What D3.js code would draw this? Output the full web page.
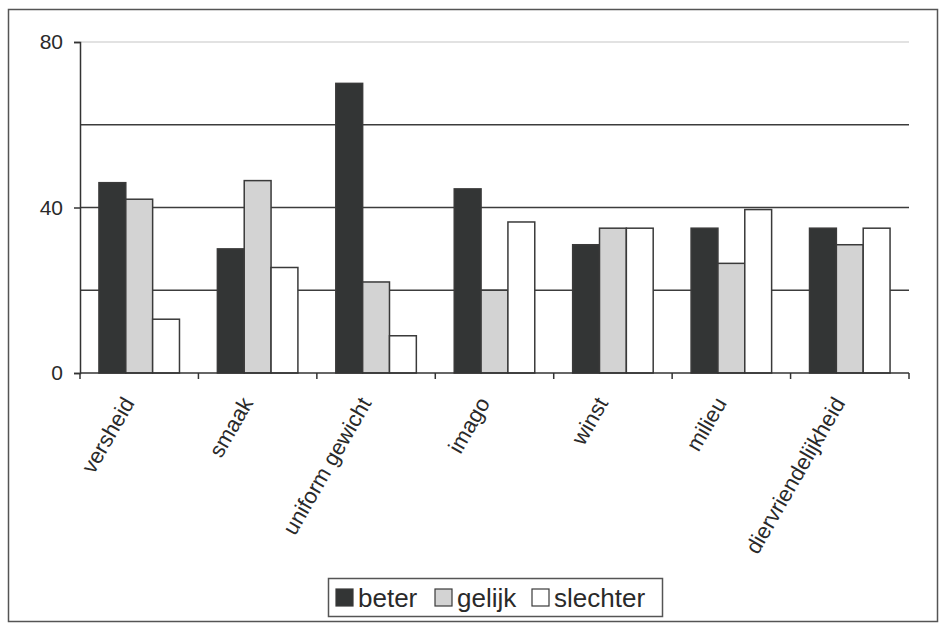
<!DOCTYPE html>
<html>
<head>
<meta charset="utf-8">
<script src="https://cdn.jsdelivr.net/npm/d3@7"></script>
<style>
  html, body { margin: 0; padding: 0; background: #fff; }
  svg { display: block; font-family: Arial, "Liberation Sans", sans-serif; }
</style>
</head>
<body>
<svg id="chart" width="944" height="630"></svg>
<script>
// Categories, series and values
const categories = ["versheid", "smaak", "uniform gewicht", "imago", "winst", "milieu", "diervriendelijkheid"];
const seriesNames = ["beter", "gelijk", "slechter"];
const beter    = [46, 30, 70, 44.5, 31, 35, 35];
const gelijk   = [42, 46.5, 22, 20, 35, 26.5, 31];
const slechter = [13, 25.5, 9, 36.5, 35, 39.5, 35];
const yTickLabels = [0, 40, 80];
const gridValues = [20, 40, 60, 80];

const seriesValues = [beter, gelijk, slechter];
const fills = ["#333535", "#d3d3d3", "#ffffff"];
const stroke = "#3a3a3a";

const svg = d3.select("#chart");

// outer frame
svg.append("rect")
  .attr("x", 8.5).attr("y", 9.5)
  .attr("width", 929).attr("height", 612)
  .attr("fill", "none").attr("stroke", "#555").attr("stroke-width", 1.5);

const plot = { left: 80, right: 909, top: 42, bottom: 373 };

const x0 = d3.scaleBand().domain(categories).range([plot.left, plot.right]).padding(0);
const groupInset = 0.16;
const x1 = d3.scaleBand().domain(seriesNames)
  .range([x0.bandwidth() * groupInset, x0.bandwidth() * (1 - groupInset)]).padding(0);
const y = d3.scaleLinear().domain([0, 80]).range([plot.bottom, plot.top]);

// gridlines
svg.append("g").selectAll("line").data(gridValues).join("line")
  .attr("x1", plot.left).attr("x2", plot.right)
  .attr("y1", d => y(d)).attr("y2", d => y(d))
  .attr("stroke", d => d === 80 ? "#d8d8d8" : "#3c3c3c")
  .attr("stroke-width", 1.5);

// bars
const rows = categories.map((c, i) => ({ c, vals: seriesNames.map((s, j) => ({ s, j, v: seriesValues[j][i] })) }));
const groups = svg.append("g").selectAll("g").data(rows).join("g")
  .attr("transform", d => `translate(${x0(d.c)},0)`);
groups.selectAll("rect").data(d => d.vals).join("rect")
  .attr("x", d => x1(d.s))
  .attr("y", d => y(d.v))
  .attr("width", x1.bandwidth())
  .attr("height", d => y(0) - y(d.v))
  .attr("fill", d => fills[d.j])
  .attr("stroke", stroke).attr("stroke-width", 1.5);

// x axis line and ticks at category boundaries
const boundaries = categories.map(c => x0(c)).concat([plot.right]);
svg.append("line")
  .attr("x1", plot.left).attr("x2", plot.right)
  .attr("y1", y(0)).attr("y2", y(0))
  .attr("stroke", "#333").attr("stroke-width", 1.5);
svg.append("g").selectAll("line").data(boundaries).join("line")
  .attr("x1", d => d).attr("x2", d => d)
  .attr("y1", y(0)).attr("y2", y(0) + 6)
  .attr("stroke", "#333").attr("stroke-width", 1.5);

// y axis
const yAxis = svg.append("g")
  .attr("transform", `translate(${plot.left},0)`)
  .call(d3.axisLeft(y).tickValues(yTickLabels).tickSize(6).tickPadding(11).tickFormat(d3.format("d")));
yAxis.select(".domain").attr("stroke", "#333").attr("stroke-width", 1.5);
yAxis.selectAll(".tick line").attr("stroke", "#333").attr("stroke-width", 1.5);
yAxis.selectAll(".tick text")
  .attr("font-size", 21).attr("fill", "#2a2a2a")
  .attr("font-family", "Arial, 'Liberation Sans', sans-serif");

// category labels, rotated
svg.append("g").selectAll("text").data(categories).join("text")
  .attr("transform", d => `translate(${x0(d) + x0.bandwidth() / 2 - 4},${y(0) + 30}) rotate(-60)`)
  .attr("text-anchor", "end")
  .attr("font-size", 22)
  .attr("fill", "#2a2a2a")
  .text(d => d);

// legend
const legend = svg.append("g").attr("transform", "translate(328,578)");
legend.append("rect")
  .attr("x", 0.5).attr("y", 0.5).attr("width", 334).attr("height", 38)
  .attr("fill", "#fff").attr("stroke", "#555").attr("stroke-width", 1.5);
const itemX = [8, 107, 204];
const items = legend.selectAll("g.item").data(seriesNames).join("g")
  .attr("class", "item")
  .attr("transform", (d, i) => `translate(${itemX[i]},0)`);
items.append("rect")
  .attr("x", 0).attr("y", 11).attr("width", 17).attr("height", 17)
  .attr("fill", (d, i) => fills[i]).attr("stroke", stroke).attr("stroke-width", 1.2);
items.append("text")
  .attr("x", 22).attr("y", 29)
  .attr("font-size", 26)
  .attr("fill", "#2a2a2a")
  .text(d => d);
</script>
</body>
</html>
